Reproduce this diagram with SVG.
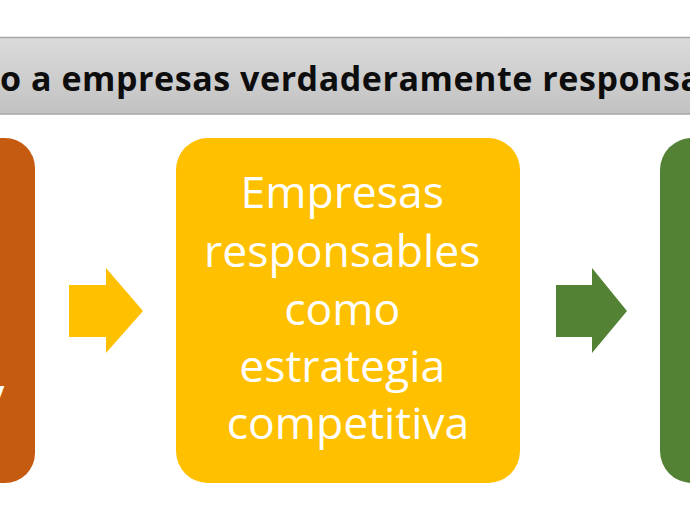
<svg xmlns="http://www.w3.org/2000/svg" width="690" height="518" viewBox="0 0 690 518">
  <defs>
    <linearGradient id="bannerGrad" x1="0" y1="0" x2="0" y2="1">
      <stop offset="0" stop-color="#dbdbdb"/>
      <stop offset="1" stop-color="#c2c2c2"/>
    </linearGradient>
  </defs>
  <style>
    .banner { fill: url(#bannerGrad); stroke: #a6a6a6; stroke-width: 1.5; }
    .bannerText { font-family: "Open Sans", "DejaVu Sans", sans-serif; font-weight: bold; font-size: 34px; fill: #0d0d0d; }
    .boxText { font-family: "Open Sans", "DejaVu Sans", sans-serif; font-size: 44.5px; fill: #ffffff; text-anchor: middle; }
    .boxTextL { font-family: "Open Sans", "DejaVu Sans", sans-serif; font-size: 44.5px; fill: #ffffff; }
  </style>
  <rect width="690" height="518" fill="#ffffff"/>

  <g id="banner">
    <rect class="banner" x="-3" y="37.5" width="696" height="76.5"/>
    <text class="bannerText" x="0" y="91" textLength="701" lengthAdjust="spacing">o a empresas verdaderamente responsa</text>
  </g>

  <g id="node-orange">
    <rect x="-60" y="138" width="95" height="345" rx="30" ry="30" fill="#C55A11"/>
    <text class="boxTextL" x="-18" y="410">y</text>
  </g>

  <g id="node-yellow">
    <rect x="176" y="138" width="344" height="345" rx="32" ry="32" fill="#FFC000"/>
    <text class="boxText">
      <tspan x="348" y="208">Empresas</tspan>
      <tspan x="348" y="267">responsables</tspan>
      <tspan x="348" y="325">como</tspan>
      <tspan x="348" y="382">estrategia</tspan>
      <tspan x="348" y="439">competitiva</tspan>
    </text>
  </g>

  <g id="node-green">
    <rect x="660" y="138" width="100" height="345" rx="32" ry="32" fill="#548235"/>
  </g>

  <g id="connectors">
    <polygon points="69,285 106,285 106,268 143,311 106,353 106,337 69,337" fill="#FFC000"/>
    <polygon points="556,285 592,285 592,268 627,311 592,353 592,337 556,337" fill="#548235"/>
  </g>
</svg>
